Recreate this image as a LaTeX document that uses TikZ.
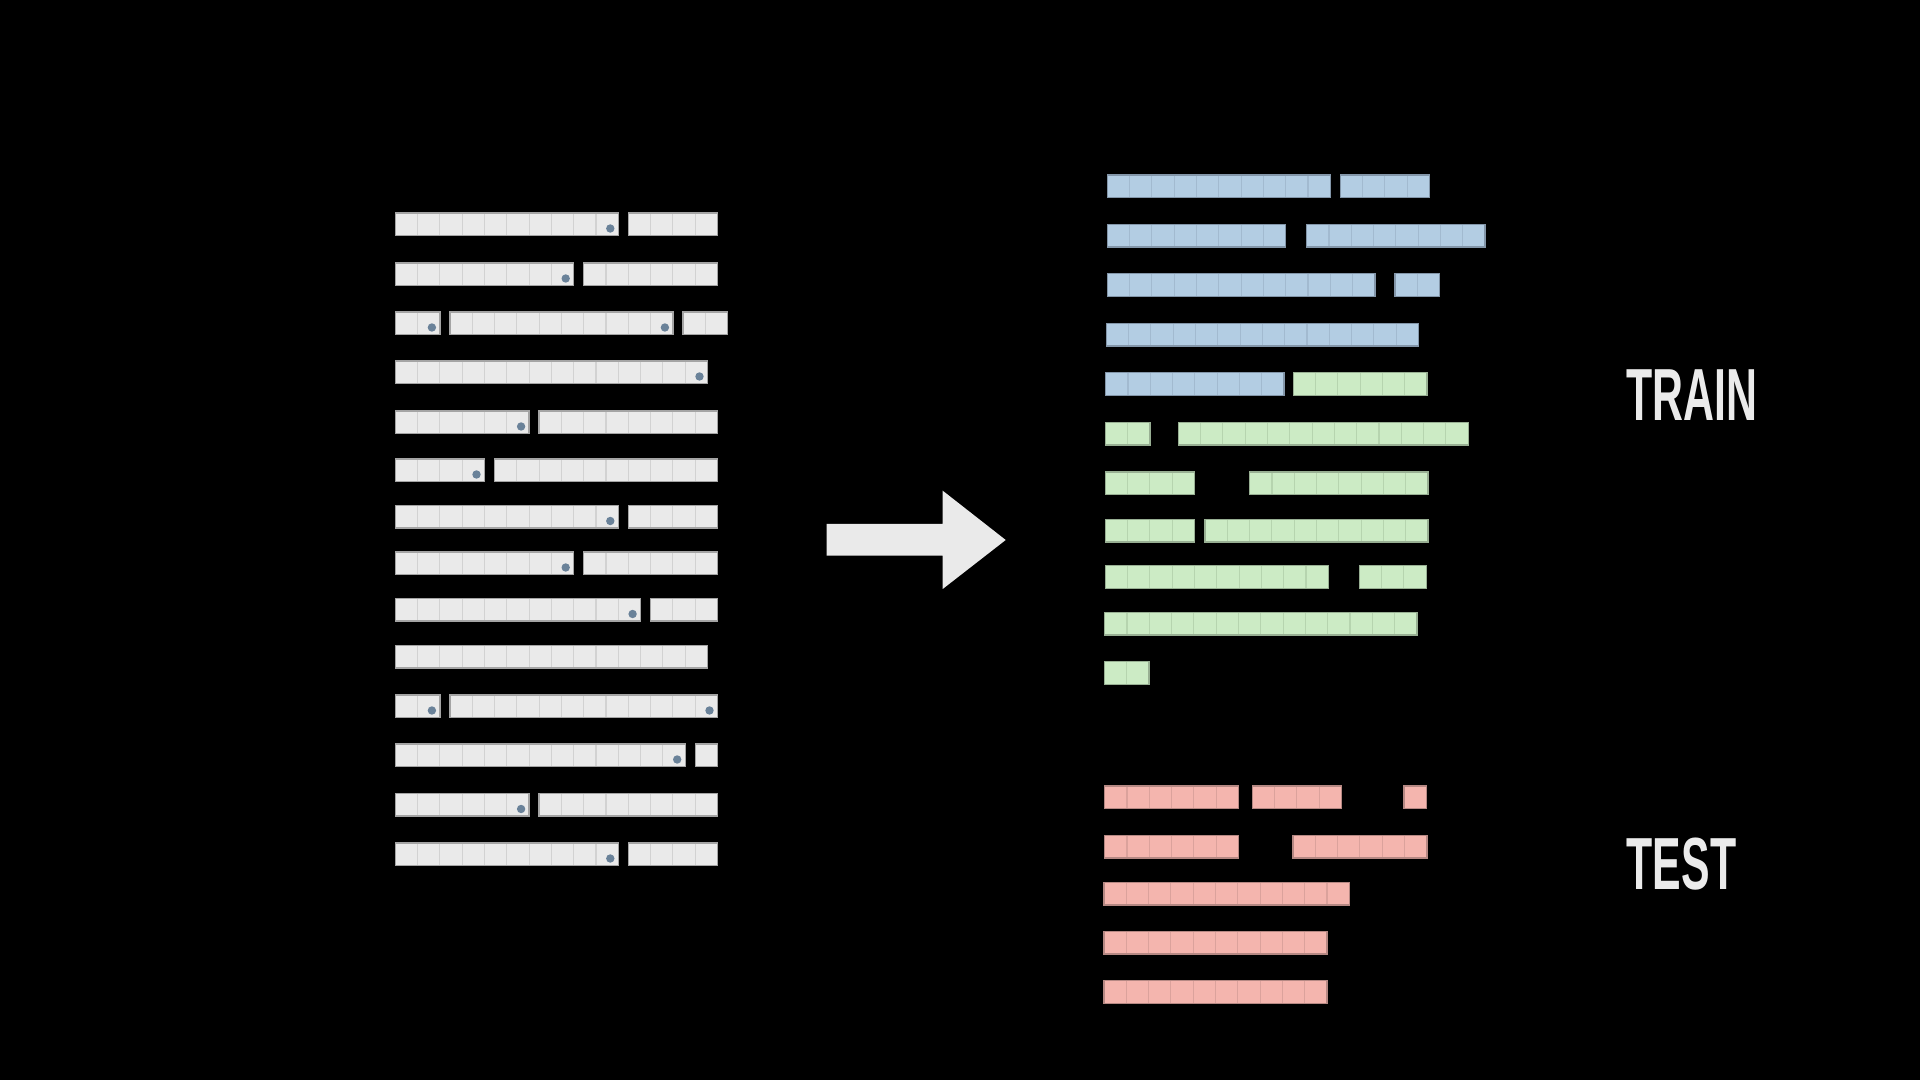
\documentclass[tikz,border=0pt]{standalone}
\usepackage{fontspec}
\setmainfont{Liberation Sans}

\definecolor{greyfill}{HTML}{EAEAEA}
\definecolor{greydiv}{HTML}{D2D2D2}
\definecolor{greyedge}{HTML}{A4A4A4}
\definecolor{bluefill}{HTML}{B3CDE3}
\definecolor{bluediv}{HTML}{A2BAD0}
\definecolor{blueedge}{HTML}{8396A9}
\definecolor{greenfill}{HTML}{CCEBC5}
\definecolor{greendiv}{HTML}{B6D4AF}
\definecolor{greenedge}{HTML}{98AF93}
\definecolor{redfill}{HTML}{F4B5AE}
\definecolor{reddiv}{HTML}{DBA29C}
\definecolor{rededge}{HTML}{B58883}
\definecolor{dotblue}{HTML}{6A8299}
\definecolor{lighttext}{HTML}{EBEBEB}

\tikzset{
  grey cell/.style={draw=greydiv, fill=greyfill, line width=0.3pt},
  grey edge/.style={draw=greyedge, line width=0.4pt},
  blue cell/.style={draw=bluediv, fill=bluefill, line width=0.3pt},
  blue edge/.style={draw=blueedge, line width=0.4pt},
  green cell/.style={draw=greendiv, fill=greenfill, line width=0.3pt},
  green edge/.style={draw=greenedge, line width=0.4pt},
  red cell/.style={draw=reddiv, fill=redfill, line width=0.3pt},
  red edge/.style={draw=rededge, line width=0.4pt},
  dot/.style={fill=dotblue},
  label/.style={text=lighttext, font=\bfseries\fontsize{21}{21}\selectfont,
    inner sep=0pt, anchor=base west}
}

% #1 colour, #2 x, #3 y (top), #4 number of cells
\newcommand{\cellseg}[4]{%
  \foreach \k in {1,...,#4}
    \draw[#1 cell] ({#2+(\k-1)*22.3},#3) rectangle ++(22.3,22.7);
  \draw[#1 edge] (#2,#3) rectangle ++({#4*22.3},22.7);
}
% grey segment with a dot in its last cell
\newcommand{\dotseg}[3]{%
  \cellseg{grey}{#1}{#2}{#3}
  \fill[dot] ({#1+#3*22.3-8},{#2+15.5}) circle (4.2);
}

\begin{document}
\begin{tikzpicture}[x=0.01cm, y=-0.01cm]
  \fill[black] (0,0) rectangle (1920,1080);

  % left: all sequences
  \dotseg{395.3}{213}{10}  \cellseg{grey}{628.3}{213}{4}
  \dotseg{395.3}{263}{8}   \cellseg{grey}{583.7}{263}{6}
  \dotseg{395.3}{312}{2}   \dotseg{449.9}{312}{10}  \cellseg{grey}{682.9}{312}{2}
  \dotseg{395.3}{361}{14}
  \dotseg{395.3}{411}{6}   \cellseg{grey}{539.1}{411}{8}
  \dotseg{395.3}{459}{4}   \cellseg{grey}{494.5}{459}{10}
  \dotseg{395.3}{505.5}{10} \cellseg{grey}{628.3}{505.5}{4}
  \dotseg{395.3}{552}{8}   \cellseg{grey}{583.7}{552}{6}
  \dotseg{395.3}{598.5}{11} \cellseg{grey}{650.6}{598.5}{3}
  \cellseg{grey}{395.3}{645.5}{14}
  \dotseg{395.3}{695}{2}   \dotseg{449.9}{695}{12}
  \dotseg{395.3}{744}{13}  \cellseg{grey}{695.2}{744}{1}
  \dotseg{395.3}{793.5}{6} \cellseg{grey}{539.1}{793.5}{8}
  \dotseg{395.3}{843}{10}  \cellseg{grey}{628.3}{843}{4}

  % arrow
  \fill[greyfill] (826.7,524) -- (942.7,524) -- (942.7,490.7) -- (1005.7,540)
    -- (942.7,589) -- (942.7,555.7) -- (826.7,555.7) -- cycle;

  % right: train
  \cellseg{blue}{1107.3}{175}{10}   \cellseg{blue}{1340.3}{175}{4}
  \cellseg{blue}{1107.3}{224.3}{8}  \cellseg{blue}{1306.7}{224.3}{8}
  \cellseg{blue}{1107.3}{273.7}{12} \cellseg{blue}{1395}{273.7}{2}
  \cellseg{blue}{1106.3}{323.3}{14}
  \cellseg{blue}{1105.7}{372.7}{8}  \cellseg{green}{1293.3}{372.7}{6}
  \cellseg{green}{1105.3}{422.5}{2} \cellseg{green}{1178.3}{422.5}{13}
  \cellseg{green}{1105.3}{472}{4}   \cellseg{green}{1249.7}{472}{8}
  \cellseg{green}{1105.3}{519.3}{4} \cellseg{green}{1205}{519.3}{10}
  \cellseg{green}{1105.3}{565.7}{10} \cellseg{green}{1359.3}{565.7}{3}
  \cellseg{green}{1104.7}{612.3}{14}
  \cellseg{green}{1104.3}{661.7}{2}

  % right: test
  \cellseg{red}{1104.7}{786}{6}   \cellseg{red}{1252.3}{786}{4}  \cellseg{red}{1404}{786}{1}
  \cellseg{red}{1104.7}{835.3}{6} \cellseg{red}{1293}{835.3}{6}
  \cellseg{red}{1104}{882.3}{11}
  \cellseg{red}{1104}{931.3}{10}
  \cellseg{red}{1104}{980.7}{10}

  \node[label] (train) at (1626,421) {\scalebox{0.58}[1]{TRAIN}};
  \node[label] (test) at (1626,890) {\scalebox{0.58}[1]{TEST}};
\end{tikzpicture}
\end{document}
